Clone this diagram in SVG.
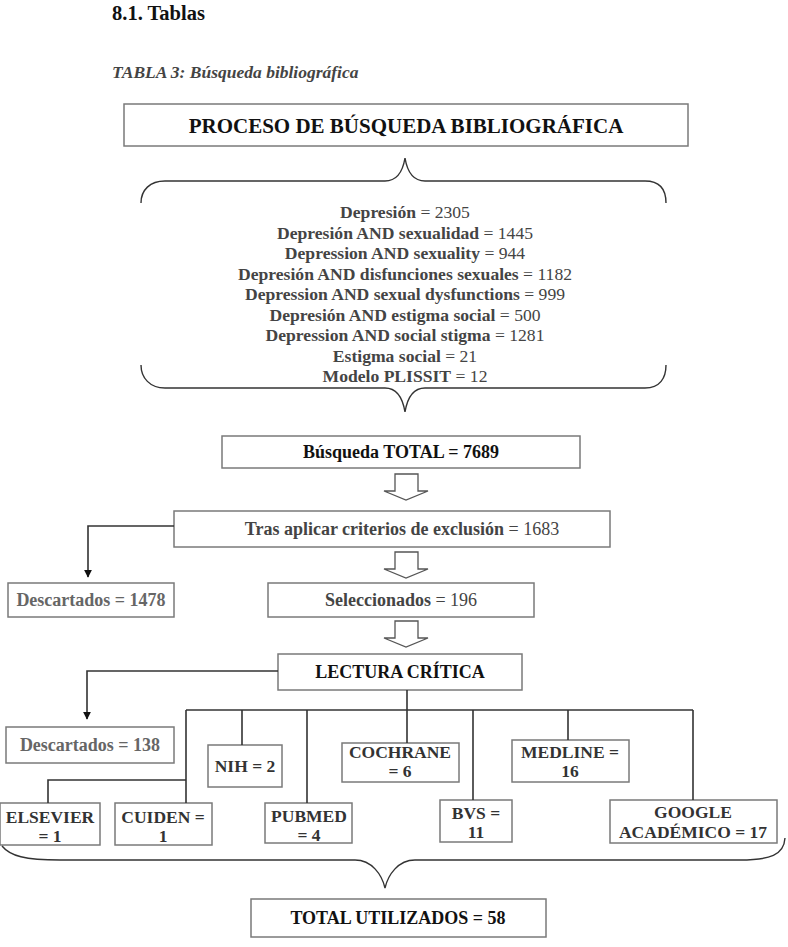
<svg xmlns="http://www.w3.org/2000/svg" width="788" height="947" viewBox="0 0 788 947">
<defs>
<style>
text{font-family:"Liberation Serif","Times New Roman",serif;}
.box{fill:#fff;stroke:#7a7a7a;stroke-width:1.5;}
.con{fill:none;stroke:#333;stroke-width:1.6;}
.brace{fill:none;stroke:#333;stroke-width:1.4;}
.harrow{fill:#fff;stroke:#555;stroke-width:1.3;}
.b{font-weight:bold;}
.lst{font-size:17.6px;fill:#444;text-anchor:middle;}
.g{fill:#444;}
.lg{fill:#666;}
.k{fill:#111;}
.src{font-size:17.5px;font-weight:bold;fill:#333;text-anchor:middle;}
</style>
<marker id="ah" viewBox="0 0 10 10" refX="9" refY="5" markerWidth="8" markerHeight="8" markerUnits="userSpaceOnUse" orient="auto">
<path d="M0,0 L10,5 L0,10 z" fill="#111"/>
</marker>
</defs>

<text x="112" y="20" font-size="20.5" class="b" fill="#111">8.1. Tablas</text>
<text x="112" y="78" font-size="17.5" font-weight="bold" font-style="italic" fill="#444">TABLA 3: Búsqueda bibliográfica</text>

<g id="proceso">
<rect class="box" x="124" y="104" width="564" height="42"/>
<text x="406" y="133" font-size="21" class="b k" text-anchor="middle">PROCESO DE BÚSQUEDA BIBLIOGRÁFICA</text>
</g>

<g id="terminos">
<path class="brace" d="M141,203 C141,190 150,181 165,181 L385,181 C398,181 403,170 405,158 C407,170 412,181 425,181 L645,181 C660,181 666,190 666,203"/>
<text class="lst" x="405" y="218"><tspan class="b">Depresión</tspan> = 2305</text>
<text class="lst" x="405" y="238.5"><tspan class="b">Depresión AND sexualidad</tspan> = 1445</text>
<text class="lst" x="405" y="259"><tspan class="b">Depression AND sexuality</tspan> = 944</text>
<text class="lst" x="405" y="279.5"><tspan class="b">Depresión AND disfunciones sexuales</tspan> = 1182</text>
<text class="lst" x="405" y="300"><tspan class="b">Depression AND sexual dysfunctions</tspan> = 999</text>
<text class="lst" x="405" y="320.5"><tspan class="b">Depresión AND estigma social</tspan> = 500</text>
<text class="lst" x="405" y="341"><tspan class="b">Depression AND social stigma</tspan> = 1281</text>
<text class="lst" x="405" y="361.5"><tspan class="b">Estigma social</tspan> = 21</text>
<text class="lst" x="405" y="382"><tspan class="b">Modelo PLISSIT</tspan> = 12</text>
<path class="brace" d="M141,365 C141,378 150,388 165,388 L385,388 C398,388 403,400 405,412 C407,400 412,388 425,388 L645,388 C660,388 666,378 666,365"/>
</g>

<g id="total">
<rect class="box" x="222" y="436" width="358" height="32"/>
<text x="401" y="458" font-size="18" class="b k" text-anchor="middle">Búsqueda TOTAL = 7689</text>
</g>

<g id="tras">
<rect class="box" x="174" y="511" width="436" height="36"/>
<text x="402" y="535" font-size="18" class="g" text-anchor="middle"><tspan class="b">Tras aplicar criterios de exclusión</tspan> = 1683</text>
</g>

<g id="descartados1">
<rect class="box" x="8" y="583" width="166" height="34"/>
<text x="91" y="606" font-size="18" class="b lg" text-anchor="middle">Descartados = 1478</text>
</g>

<g id="seleccionados">
<rect class="box" x="268" y="583" width="266" height="34"/>
<text x="401" y="606" font-size="18" class="g" text-anchor="middle"><tspan class="b">Seleccionados</tspan> = 196</text>
</g>

<g id="lectura">
<rect class="box" x="278" y="654" width="244" height="36"/>
<text x="400" y="678" font-size="18" class="b k" text-anchor="middle">LECTURA CRÍTICA</text>
</g>

<g id="descartados2">
<rect class="box" x="6" y="727" width="168" height="36"/>
<text x="90" y="751" font-size="18" class="b lg" text-anchor="middle">Descartados = 138</text>
</g>

<g id="nih">
<rect class="box" x="208" y="745" width="74" height="42"/>
<text class="src" x="245" y="772">NIH = 2</text>
</g>
<g id="cochrane">
<rect class="box" x="342" y="743" width="117" height="39"/>
<text class="src" x="400" y="758">COCHRANE</text>
<text class="src" x="400" y="777">= 6</text>
</g>
<g id="medline">
<rect class="box" x="512" y="740" width="117" height="42"/>
<text class="src" x="570" y="758">MEDLINE =</text>
<text class="src" x="570" y="777">16</text>
</g>
<g id="elsevier">
<rect class="box" x="0" y="803" width="100" height="42"/>
<text class="src" x="50" y="823">ELSEVIER</text>
<text class="src" x="50" y="842">= 1</text>
</g>
<g id="cuiden">
<rect class="box" x="115" y="803" width="97" height="42"/>
<text class="src" x="163" y="823">CUIDEN =</text>
<text class="src" x="163" y="842">1</text>
</g>
<g id="pubmed">
<rect class="box" x="265" y="803" width="87" height="40"/>
<text class="src" x="309" y="822">PUBMED</text>
<text class="src" x="309" y="841">= 4</text>
</g>
<g id="bvs">
<rect class="box" x="440" y="800" width="72" height="42"/>
<text class="src" x="476" y="819">BVS =</text>
<text class="src" x="476" y="838">11</text>
</g>
<g id="google">
<rect class="box" x="610" y="800" width="167" height="43"/>
<text class="src" x="693" y="818">GOOGLE</text>
<text class="src" x="693" y="838">ACADÉMICO = 17</text>
</g>

<g id="utilizados">
<rect class="box" x="251" y="899" width="295" height="38"/>
<text x="398" y="924" font-size="18" class="b k" text-anchor="middle">TOTAL UTILIZADOS = 58</text>
</g>

<g id="connectors">
<polygon class="harrow" points="395,474 418,474 418,491 428,491 406,500 384,491 395,491"/>
<polygon class="harrow" points="395,552 418,552 418,569 428,569 406,578 384,569 395,569"/>
<polygon class="harrow" points="395,621 418,621 418,638 428,638 406,647 384,638 395,638"/>
<path class="con" d="M174,526 L88,526 L88,577" marker-end="url(#ah)"/>
<path class="con" d="M278,671 L87,671 L87,719" marker-end="url(#ah)"/>
<path class="con" d="M407,690 L407,743"/>
<path class="con" d="M186,710 L693,710"/>
<path class="con" d="M186,710 L186,803"/>
<path class="con" d="M186,780 L48,780 L48,803"/>
<path class="con" d="M242,710 L242,745"/>
<path class="con" d="M307,710 L307,803"/>
<path class="con" d="M473,710 L473,800"/>
<path class="con" d="M568,710 L568,740"/>
<path class="con" d="M693,710 L693,800"/>
<path class="brace" d="M2,846 C10,856 25,860 60,860 L355,860 C372,860 382,875 385,888 C388,875 398,860 415,860 L740,860 C770,860 784,855 785,838"/>
</g>
</svg>
